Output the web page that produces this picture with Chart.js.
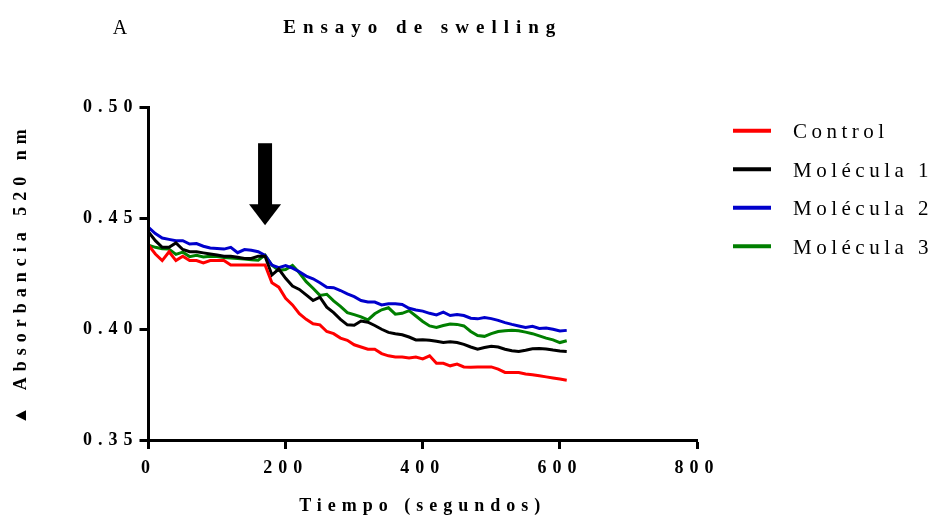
<!DOCTYPE html>
<html>
<head>
<meta charset="utf-8">
<title>Ensayo de swelling</title>
<script src="https://cdn.jsdelivr.net/npm/chart.js@4.4.1/dist/chart.umd.min.js"></script>
<style>
  html, body { margin: 0; padding: 0; background: #fff; }
  #grafico { display: block; }
</style>
</head>
<body>
<canvas id="grafico" width="934" height="519"></canvas>
<script>
// tiempo en segundos
const tiempo = [0, 10, 20, 30, 40, 50, 60, 70, 80, 90, 100, 110, 120, 130, 140, 150, 160, 170,
  180, 190, 200, 210, 220, 230, 240, 250, 260, 270, 280, 290,
  300, 310, 320, 330, 340, 350, 360, 370, 380, 390,
  400, 410, 420, 430, 440, 450, 460, 470, 480, 490,
  500, 510, 520, 530, 540, 550, 560, 570, 580, 590,
  600, 610];

const control = [0.438, 0.434, 0.431, 0.435, 0.431, 0.433, 0.431, 0.431, 0.430, 0.431, 0.431, 0.431, 0.429, 0.429, 0.429, 0.429, 0.429, 0.429,
  0.421, 0.419, 0.414, 0.411, 0.407, 0.4045, 0.4025, 0.402, 0.399, 0.398, 0.396, 0.395,
  0.393, 0.392, 0.391, 0.391, 0.389, 0.388, 0.3875, 0.3875, 0.387, 0.3875,
  0.3866, 0.388, 0.3846, 0.3846, 0.3835, 0.3843, 0.383, 0.3828, 0.383, 0.383,
  0.383, 0.382, 0.3805, 0.3805, 0.3805, 0.3798, 0.3795, 0.379, 0.3785, 0.378,
  0.3775, 0.377];

const molecula1 = [0.444, 0.440, 0.437, 0.437, 0.439, 0.436, 0.435, 0.435, 0.4345, 0.434, 0.4335, 0.433, 0.433, 0.4325, 0.432, 0.432, 0.433, 0.433,
  0.4245, 0.4272, 0.423, 0.4195, 0.418, 0.4155, 0.413, 0.4145, 0.410, 0.4075, 0.4045, 0.402,
  0.4018, 0.4037, 0.4032, 0.4017, 0.400, 0.3986, 0.398, 0.3975, 0.3965, 0.3952,
  0.3953, 0.395, 0.3946, 0.394, 0.3944, 0.394, 0.3932, 0.392, 0.391, 0.3918,
  0.3923, 0.392, 0.391, 0.3903, 0.390, 0.3905, 0.3912, 0.3913, 0.3911, 0.3906,
  0.3902, 0.390];

const molecula2 = [0.446, 0.4432, 0.4412, 0.4406, 0.440, 0.440, 0.4385, 0.4387, 0.4375, 0.4367, 0.4365, 0.4362, 0.437, 0.4346, 0.436, 0.4357, 0.435, 0.4334,
  0.429, 0.4278, 0.4288, 0.4276, 0.426, 0.424, 0.4228, 0.421, 0.419, 0.4188, 0.4175, 0.416,
  0.4147, 0.413, 0.4123, 0.4123, 0.411, 0.4115, 0.4115, 0.4112, 0.4095, 0.4087,
  0.4082, 0.4072, 0.4065, 0.4077, 0.4062, 0.4067, 0.4062, 0.405, 0.4047, 0.4053,
  0.4048, 0.404, 0.403, 0.4022, 0.4015, 0.4008, 0.4013, 0.4004, 0.4006, 0.400,
  0.3992, 0.3995];

const molecula3 = [0.438, 0.437, 0.4364, 0.4362, 0.4338, 0.4348, 0.4328, 0.4334, 0.4326, 0.433, 0.4328, 0.4324, 0.4322, 0.432, 0.4317, 0.4314, 0.4312, 0.4335,
  0.4289, 0.4266, 0.427, 0.4288, 0.4255, 0.4215, 0.4185, 0.4153, 0.4158, 0.4128, 0.4103, 0.4075,
  0.4066, 0.4056, 0.4042, 0.407, 0.4088, 0.4097, 0.4068, 0.4072, 0.4084, 0.406,
  0.4035, 0.4015, 0.4008, 0.4017, 0.4024, 0.4022, 0.4015, 0.399, 0.3972, 0.3968,
  0.398, 0.399, 0.3993, 0.3996, 0.3993, 0.3987, 0.398, 0.397, 0.396, 0.3952,
  0.394, 0.3948];

const etiquetas = ['Control', 'Molécula 1', 'Molécula 2', 'Molécula 3'];
const colores = ['#ff0000', '#000000', '#0000cc', '#007f00'];
const ticksY = [0.35, 0.40, 0.45, 0.50];

// flecha: momento de la adicion (segundos) y extension vertical en absorbancia
const flecha = { tiempo: 170, desde: 0.484, cabeza: 0.4565, hasta: 0.447 };

const serif = '"Liberation Serif", "Times New Roman", serif';
Chart.defaults.font.family = serif;
Chart.defaults.color = '#000';

const series = [control, molecula1, molecula2, molecula3];
const datasets = series.map((valores, i) => ({
  label: etiquetas[i],
  data: valores.map((v, j) => ({ x: tiempo[j], y: v })),
  borderColor: colores[i],
  backgroundColor: colores[i],
  borderWidth: 3,
  pointRadius: 0,
  tension: 0,
  fill: false
}));

// letras espaciadas + leyenda, "A" y flecha
const extras = {
  id: 'extras',
  beforeDraw(chart) { chart.ctx.letterSpacing = '7px'; },
  afterDatasetsDraw(chart) { chart.ctx.letterSpacing = '6px'; },
  afterDraw(chart) {
    const ctx = chart.ctx;
    const xs = chart.scales.x, ys = chart.scales.y;

    // flecha
    const cx = xs.getPixelForValue(flecha.tiempo);
    const yTop = ys.getPixelForValue(flecha.desde);
    const yBase = ys.getPixelForValue(flecha.cabeza);
    const yTip = ys.getPixelForValue(flecha.hasta);
    ctx.save();
    ctx.fillStyle = '#000';
    ctx.fillRect(cx - 7, yTop, 14, yBase - yTop + 1);
    ctx.beginPath();
    ctx.moveTo(cx - 16, yBase);
    ctx.lineTo(cx + 16, yBase);
    ctx.lineTo(cx, yTip);
    ctx.closePath();
    ctx.fill();
    ctx.restore();

    // leyenda
    ctx.save();
    ctx.letterSpacing = '4.5px';
    ctx.font = '21px ' + serif;
    ctx.textBaseline = 'middle';
    ctx.textAlign = 'left';
    chart.data.datasets.forEach((ds, i) => {
      const y = 130.7 + i * 38.5;
      ctx.strokeStyle = ds.borderColor;
      ctx.lineWidth = 4;
      ctx.beginPath();
      ctx.moveTo(733, y);
      ctx.lineTo(771, y);
      ctx.stroke();
      ctx.fillStyle = '#000';
      ctx.fillText(ds.label, 793, y + 2);
    });

    // letra del panel
    ctx.letterSpacing = '0px';
    ctx.font = '20px ' + serif;
    ctx.textAlign = 'center';
    ctx.fillText('A', 120, 29);
    ctx.restore();
  }
};

new Chart(document.getElementById('grafico'), {
  type: 'line',
  data: { datasets },
  plugins: [extras],
  options: {
    responsive: false,
    animation: false,
    layout: { padding: { left: 0, right: 237, top: 0, bottom: 0 } },
    plugins: {
      legend: { display: false },
      tooltip: { enabled: false },
      title: {
        display: true,
        text: 'Ensayo de swelling',
        fullSize: false,
        color: '#000',
        font: { size: 19, weight: 'bold', family: serif },
        padding: { top: 17, bottom: 68 }
      }
    },
    scales: {
      x: {
        type: 'linear',
        min: 0,
        max: 800,
        afterFit(scale) {
          scale.height = 79;
          scale.paddingLeft = 0;
          scale.paddingRight = 0;
        },
        ticks: {
          stepSize: 200,
          padding: 9,
          color: '#000',
          font: { size: 18, weight: 'bold', family: serif },
          z: 1
        },
        grid: {
          drawOnChartArea: false,
          drawTicks: true,
          tickLength: 9,
          tickWidth: 3,
          color: '#000',
          z: 1
        },
        border: { display: true, color: '#000', width: 3, z: 1 },
        title: {
          display: true,
          text: 'Tiempo (segundos)',
          color: '#000',
          font: { size: 18, weight: 'bold', family: serif },
          padding: { top: 0, bottom: 2 }
        }
      },
      y: {
        type: 'linear',
        min: 0.35,
        max: 0.50,
        afterFit(scale) {
          scale.width = 148.5;
        },
        afterBuildTicks(scale) {
          scale.ticks = ticksY.map(v => ({ value: v }));
        },
        ticks: {
          padding: 1,
          color: '#000',
          font: { size: 18, weight: 'bold', family: serif },
          callback: v => v.toFixed(2),
          z: 1
        },
        grid: {
          drawOnChartArea: false,
          drawTicks: true,
          tickLength: 9,
          tickWidth: 3,
          color: '#000',
          z: 1
        },
        border: { display: true, color: '#000', width: 3, z: 1 },
        title: {
          display: true,
          text: '▲ Absorbancia 520 nm',
          color: '#000',
          font: { size: 18, weight: 'bold', family: serif },
          padding: { top: 11, bottom: 0 }
        }
      }
    }
  }
});
</script>
</body>
</html>
